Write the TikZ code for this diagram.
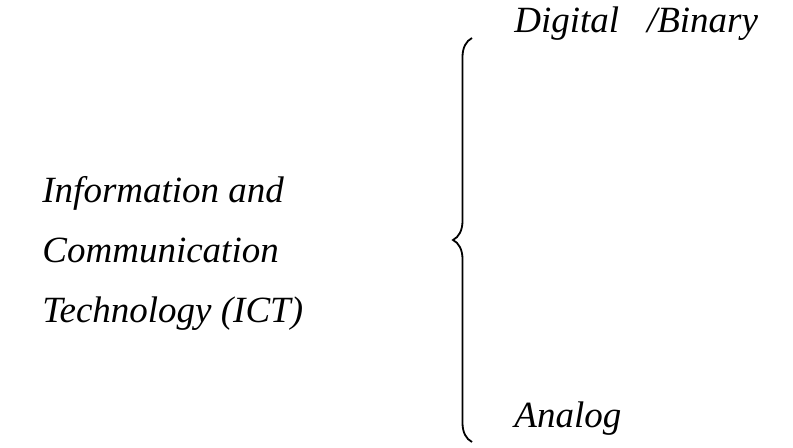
\documentclass[tikz,border=0pt]{standalone}
\usepackage{fontspec}
\setmainfont{Liberation Serif}
\usetikzlibrary{decorations.pathreplacing}
\tikzset{
    lbl/.style={font=\fontsize{18.5}{30}\selectfont\itshape, inner sep=0pt},
    br/.style={draw, line width=0.9pt, decorate, decoration={brace, amplitude=9.5pt}}
}

\begin{document}
\begin{tikzpicture}[x=0.5pt, y=-0.5pt]
  \useasboundingbox (0,0) rectangle (793,448);
  \node[lbl, align=left, anchor=west] (ict) at (42, 253)
  {Information and\\Communication\\Technology (ICT)};
  \node[lbl, anchor=base west] (dig) at (514, 33)
  {Digital\hspace{0.75em}/Binary};
  \node[lbl, anchor=base west] (ana) at (514, 428)
  {Analog};

  \coordinate (bt) at (472, 38);
  \coordinate (bb) at (472, 442);
  \draw[br] (bb) -- (bt);
\end{tikzpicture}
\end{document}
